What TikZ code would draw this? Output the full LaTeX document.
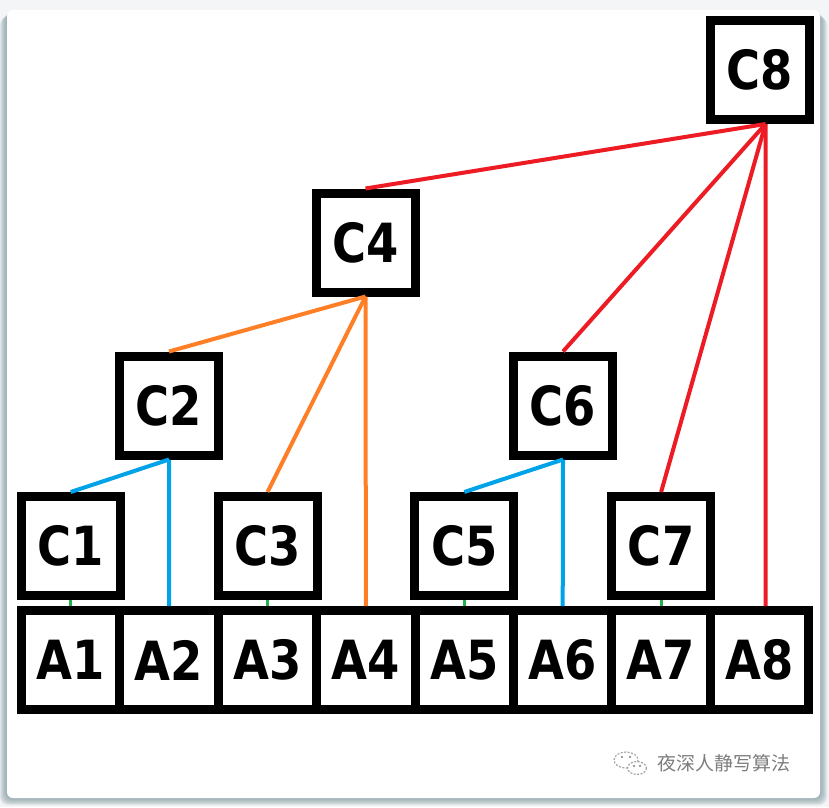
\documentclass[tikz,border=0pt]{standalone}
\usepackage{fontspec}
\newfontfamily\boxfont[FakeStretch=0.86]{DejaVu Sans}
\newfontfamily\cjkfont{Noto Sans CJK SC}
\usepackage{tikz}
\usetikzlibrary{positioning}
\definecolor{paintred}{RGB}{237,28,36}
\definecolor{paintorange}{RGB}{255,127,39}
\definecolor{paintblue}{RGB}{0,162,232}
\definecolor{paintgreen}{RGB}{34,177,76}
\definecolor{shadowgray}{RGB}{130,154,161}
\definecolor{markgray}{RGB}{125,125,125}

\begin{document}
\begin{tikzpicture}[x=1pt, y=-1pt,
  box/.style={draw=black, line width=9pt, fill=white, outer sep=4.5pt,
    minimum width=99pt, minimum height=99pt, inner sep=0pt,
    font={\boxfont\bfseries\fontsize{54pt}{60pt}\selectfont}},
  cell/.style={box, minimum width=98.4pt},
  link/.style={line width=4pt}]
  % card and its shadow
  \fill[white!90!shadowgray] (0,0) rectangle (829,807);
  \foreach \s in {1,...,7}
    \fill[shadowgray, opacity=0.16, rounded corners=8pt] (7-\s,10+\s) rectangle (820+\s,798+\s);
  \fill[white, rounded corners=6pt] (7,10) rectangle (820,798);
  \useasboundingbox (0,0) rectangle (829,807);

  % bottom row
  \foreach \i in {1,...,8}
    \node[cell] (A\i) at ({70.7+98.4*(\i-1)},660) {A\i};
  \foreach \i in {1,3,5,7}
    \node[box, above=6pt of A\i] (C\i) {C\i};
  \node[box] (C2) at (169,405.5) {C2};
  \node[box] (C6) at (563,405.5) {C6};
  \node[box] (C4) at (365.5,242.5) {C4};
  \node[box] (C8) at (759.5,70) {C8};

  % links
  \foreach \i in {1,3,5,7}
    \draw[link, line width=3pt, paintgreen] (C\i.south) -- (A\i.north);
  \draw[link, paintblue] (C2.south) -- (C1.north);
  \draw[link, paintblue] (C2.south) -- (A2.north);
  \draw[link, paintblue] (C6.south) -- (C5.north);
  \draw[link, paintblue] (C6.south) -- (A6.north);
  \draw[link, paintorange] (C4.south) -- (C2.north);
  \draw[link, paintorange] (C4.south) -- (C3.north);
  \draw[link, paintorange] (C4.south) -- (A4.north);
  \draw[link, paintred] ([xshift=6pt]C8.south) -- (C4.north);
  \draw[link, paintred] ([xshift=6pt]C8.south) -- (C6.north);
  \draw[link, paintred] ([xshift=6pt]C8.south) -- (C7.north);
  \draw[link, paintred] ([xshift=6pt]C8.south) -- ([xshift=6pt]A8.north);

  % watermark
  \draw[markgray!70, line width=1.2pt, dash pattern=on 2pt off 1.5pt] (626,760) ellipse (12 and 8);
  \draw[markgray!70, line width=1.2pt, dash pattern=on 2pt off 1.5pt, fill=white] (637,768) ellipse (9.5 and 6.5);
  \foreach \p in {(622,757),(630,757),(634,766),(640,766)}
    \fill[markgray] \p circle (1.2);
  \node[font={\cjkfont\fontsize{19pt}{19pt}\selectfont}, text=markgray, anchor=west, inner sep=0pt] (mark) at (657,763) {夜深人静写算法};
\end{tikzpicture}
\end{document}
